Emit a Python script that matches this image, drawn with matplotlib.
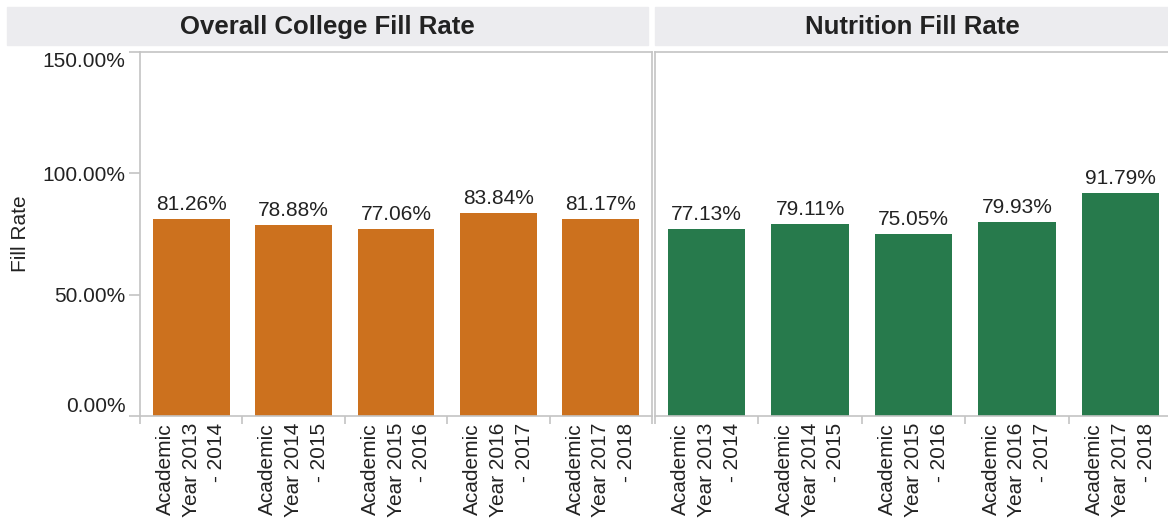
import matplotlib
matplotlib.use("Agg")
import matplotlib.pyplot as plt
from matplotlib.patches import Rectangle

plt.rcParams['font.family'] = ['Liberation Sans', 'DejaVu Sans']

# data
years = ["Academic\nYear 2013\n- 2014", "Academic\nYear 2014\n- 2015",
         "Academic\nYear 2015\n- 2016", "Academic\nYear 2016\n- 2017",
         "Academic\nYear 2017\n- 2018"]
college_rate = [81.26, 78.88, 77.06, 83.84, 81.17]
nutrition_rate = [77.13, 79.11, 75.05, 79.93, 91.79]
panel_titles = ["Overall College Fill Rate", "Nutrition Fill Rate"]
y_ticks = [0, 50, 100, 150]

W, H = 1168, 529
fig = plt.figure(figsize=(W / 100, H / 100), dpi=100)

grey = "#C4C4C4"
txt = "#222222"

ax1 = fig.add_axes([140 / W, 1 - 416 / H, 512 / W, 364 / H])
ax2 = fig.add_axes([655 / W, 1 - 416 / H, 517 / W, 364 / H])

# header bands
fig.patches.append(Rectangle((7 / W, 1 - 45 / H), (648 - 7) / W, 38 / H,
                             transform=fig.transFigure, color="#ECECEF", zorder=0))
fig.patches.append(Rectangle((655 / W, 1 - 45 / H), (1168 - 655) / W, 38 / H,
                             transform=fig.transFigure, color="#ECECEF", zorder=0))
fig.text(327 / W, 1 - 27 / H, panel_titles[0], ha="center", va="center",
         fontsize=18.5, fontweight="bold", color=txt)
fig.text(912 / W, 1 - 27 / H, panel_titles[1], ha="center", va="center",
         fontsize=18.5, fontweight="bold", color=txt)

for ax, vals, col in [(ax1, college_rate, "#CC711E"), (ax2, nutrition_rate, "#277A4C")]:
    x = range(len(vals))
    ax.bar(x, vals, width=0.75, color=col, zorder=2)
    for i, v in enumerate(vals):
        ax.annotate(f"{v:.2f}%", (i, v), xytext=(0, 3.5), textcoords="offset points",
                    ha="center", va="bottom", fontsize=15, color=txt)
    ax.set_xlim(-0.5, len(vals) - 0.5)
    ax.set_ylim(0, 150)
    ax.set_xticks(list(x))
    ax.set_xticklabels(years, rotation=90, ha="center", va="top",
                       multialignment="right", fontsize=15, color=txt,
                       linespacing=1.45)
    ax.set_xticks([i - 0.5 for i in range(len(vals) + 1)], minor=True)
    ax.tick_params(axis="x", which="major", length=0, pad=5)
    ax.tick_params(axis="x", which="minor", length=5.5, width=1.2, color=grey)
    for s in ax.spines.values():
        s.set_color(grey)
        s.set_linewidth(1.2)

ax2.spines["right"].set_visible(False)

ax1.set_yticks(y_ticks)
ax1.set_yticklabels([f"{v:.2f}%" for v in y_ticks], fontsize=15, color=txt)
ax1.tick_params(axis="y", length=8, width=1.2, color=grey, pad=2.5)
labels = ax1.get_yticklabels()
labels[0].set_va("bottom")
labels[-1].set_va("top")

ax2.set_yticks(y_ticks)
ax2.tick_params(axis="y", length=0, labelleft=False)

fig.text(20 / W, 1 - 234 / H, "Fill Rate", rotation=90, ha="center", va="center",
         fontsize=15, color=txt)

fig.savefig("out.png", dpi=100)
